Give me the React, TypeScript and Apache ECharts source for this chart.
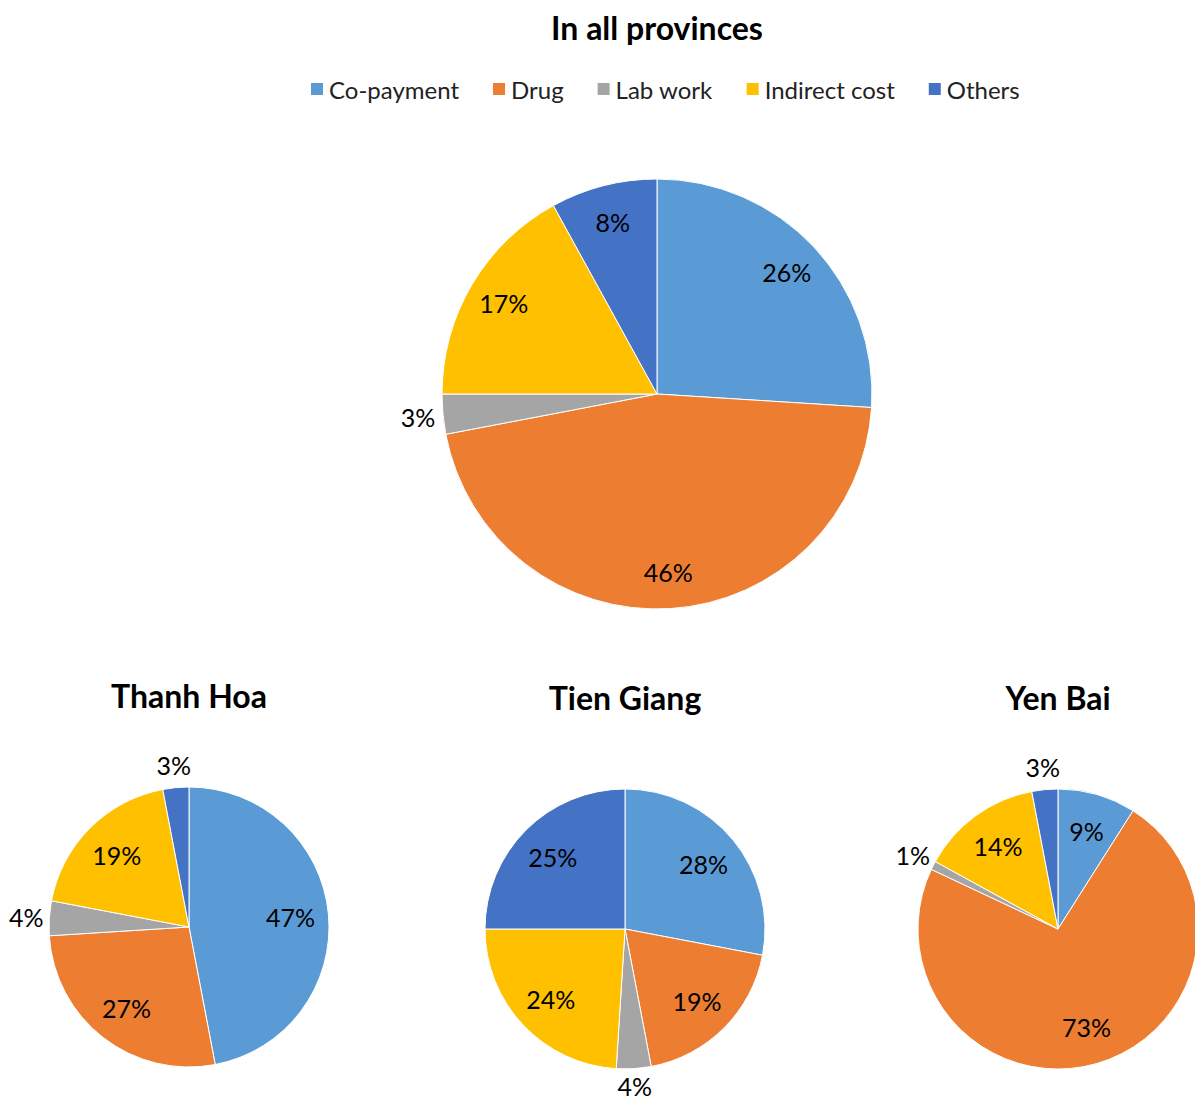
import React, { useEffect, useRef } from "react";
import * as echarts from "echarts";

const categories = ["Co-payment", "Drug", "Lab work", "Indirect cost", "Others"];
const palette = ["#5B9BD5", "#ED7D31", "#A5A5A5", "#FFC000", "#4472C4"];

const allProvinces = [26, 46, 3, 17, 8];
const thanhHoa = [47, 27, 4, 19, 3];
const tienGiang = [28, 19, 4, 24, 25];
const yenBai = [9, 73, 1, 14, 3];

const panelTitles = ["In all provinces", "Thanh Hoa", "Tien Giang", "Yen Bai"];
const panelValues = [allProvinces, thanhHoa, tienGiang, yenBai];

const FONT = "Lato, 'Open Sans', sans-serif";
const OUTSIDE_BELOW = 5; // slices smaller than this get their label outside

const layouts = [
  { center: [657, 394], r: 215, titleY: 27, inset: 80, outset: 44 },
  { center: [189, 927], r: 140, titleY: 695, inset: 82, outset: 40 },
  { center: [625, 929], r: 140, titleY: 697, inset: 82, outset: 28 },
  { center: [1058, 929], r: 140, titleY: 697, inset: 82, outset: 40 },
];

function buildSeries(
  values: number[],
  center: number[],
  r: number,
  inset: number,
  outset: number,
  idx: number
) {
  const base = {
    type: "pie",
    id: "pie" + idx,
    center,
    radius: r,
    startAngle: 90,
    clockwise: true,
    silent: true,
    emphasis: { disabled: true },
    label: { show: false },
    labelLine: { show: false },
    itemStyle: { borderColor: "#ffffff", borderWidth: 1 },
    data: values.map((v, i) => ({ name: categories[i], value: v, itemStyle: { color: palette[i] } })),
  };
  const labelStyle = {
    position: "inside",
    formatter: "{c}%",
    fontFamily: FONT,
    fontSize: 25,
    lineHeight: 24,
    color: "#000000",
  };
  const inner = {
    type: "pie",
    id: "pieIn" + idx,
    center,
    radius: [r - inset, r],
    startAngle: 90,
    clockwise: true,
    silent: true,
    emphasis: { disabled: true },
    labelLine: { show: false },
    itemStyle: { color: "rgba(0,0,0,0)", borderWidth: 0 },
    data: values.map((v, i) => ({
      name: categories[i],
      value: v,
      label: { show: v >= OUTSIDE_BELOW, ...labelStyle },
    })),
  };
  const outer = {
    type: "pie",
    id: "pieOut" + idx,
    center,
    radius: [r, r + outset],
    startAngle: 90,
    clockwise: true,
    silent: true,
    emphasis: { disabled: true },
    labelLine: { show: false },
    itemStyle: { color: "rgba(0,0,0,0)", borderWidth: 0 },
    data: values.map((v, i) => ({
      name: categories[i],
      value: v,
      label: { show: v < OUTSIDE_BELOW, ...labelStyle },
    })),
  };
  return { base, inner, outer };
}

export default function App() {
  const ref = useRef<HTMLDivElement>(null);
  useEffect(() => {
    if (!ref.current) return;
    const chart = echarts.init(ref.current, undefined, { renderer: "svg" });
    const built = panelValues.map((vals, i) =>
      buildSeries(vals, layouts[i].center, layouts[i].r, layouts[i].inset, layouts[i].outset, i)
    );
    const series: any[] = [
      ...built.map((b) => b.base),
      ...built.map((b) => b.inner),
      ...built.map((b) => b.outer),
    ];
    const graphic = panelTitles.map((t, i) => ({
      type: "text",
      x: layouts[i].center[0],
      y: layouts[i].titleY,
      style: {
        text: t,
        textAlign: "center",
        textVerticalAlign: "middle",
        fontFamily: FONT,
        fontWeight: "bold",
        fontSize: 32,
        fill: "#000000",
      },
    }));
    chart.setOption({
      animation: false,
      backgroundColor: "#ffffff",
      color: palette,
      legend: {
        data: categories,
        left: 304,
        top: 72,
        icon: "rect",
        itemWidth: 14,
        itemHeight: 14,
        itemGap: 32,
        selectedMode: false,
        textStyle: { fontFamily: FONT, fontSize: 24, color: "#222222" },
      },
      graphic,
      series,
    });
    return () => chart.dispose();
  }, []);
  return (
    <div
      ref={ref}
      style={{ position: "absolute", left: 0, top: 0, width: 1195, height: 1102 }}
    />
  );
}
